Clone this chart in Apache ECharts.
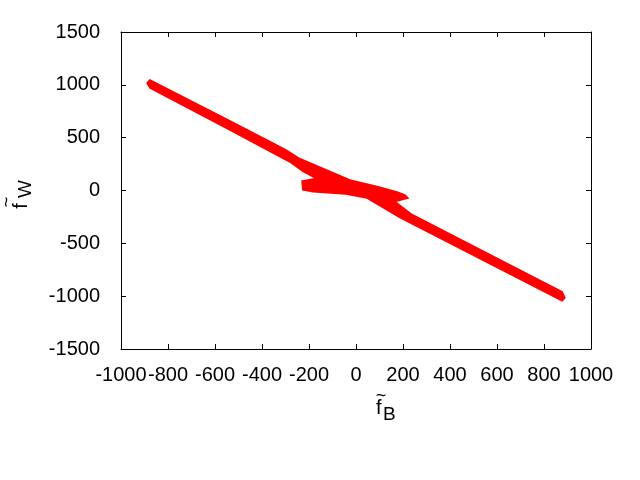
<!DOCTYPE html>
<html>
<head>
<meta charset="utf-8">
<script src="https://cdn.jsdelivr.net/npm/echarts@6/dist/echarts.min.js"></script>
<style>html,body{margin:0;padding:0;background:#fff}#c{width:640px;height:480px}</style>
</head>
<body>
<div id="c"></div>
<script>
// outline of the red point cloud (f_B, f_W)
const bandX = [-889, -877, -536, -300, -238, -26, 94, 175, 209, 221, 166, 238, 877, 889, 877, 187, 47, -43, -183, -226, -230, -170, -226, -281, -536, -877];
const bandY = [1017, 1046, 658, 387, 300, 99, 36, -14, -43, -71, -104, -227, -959, -1017, -1044, -256, -71, -33, -11, 5, 90, 114, 180, 270, 572, 970];
const xRange = [-1000, 1000, 200];
const yRange = [-1500, 1500, 500];

const FONT = 'Liberation Sans';
const chart = echarts.init(document.getElementById('c'), null, {renderer: 'canvas'});

function xAx(pos, show) {
  return {
    type: 'value', position: pos, min: xRange[0], max: xRange[1], interval: xRange[2],
    axisLine: {show: true, onZero: false, lineStyle: {color: '#000', width: 1}},
    axisTick: {show: true, inside: true, length: 5, lineStyle: {color: '#000'}},
    splitLine: {show: false},
    axisLabel: {show: show, interval: 0, hideOverlap: false, showMinLabel: true, showMaxLabel: true,
      margin: 16, color: '#000', fontFamily: FONT, fontSize: 20, formatter: v => String(v)}
  };
}
function yAx(pos, show) {
  return {
    type: 'value', position: pos, min: yRange[0], max: yRange[1], interval: yRange[2],
    axisLine: {show: true, onZero: false, lineStyle: {color: '#000', width: 1}},
    axisTick: {show: true, inside: true, length: 5, lineStyle: {color: '#000'}},
    splitLine: {show: false},
    axisLabel: {show: show, interval: 0, hideOverlap: false, showMinLabel: true, showMaxLabel: true,
      margin: 21, color: '#000', fontFamily: FONT, fontSize: 20, padding: [0, 0, 6, 0], formatter: v => String(v)}
  };
}

chart.setOption({
  animation: false,
  backgroundColor: '#fff',
  grid: {left: 121, right: 49, top: 32, bottom: 131, containLabel: false},
  xAxis: [xAx('bottom', true), xAx('top', false)],
  yAxis: [yAx('left', true), yAx('right', false)],
  series: [{
    type: 'custom',
    coordinateSystem: 'cartesian2d',
    xAxisIndex: 0, yAxisIndex: 0,
    data: [[0, 0]],
    renderItem: function (params, api) {
      const pts = bandX.map((x, i) => api.coord([x, bandY[i]]));
      return {type: 'polygon', shape: {points: pts}, style: {fill: '#ff0000', stroke: '#ff0000', lineWidth: 1.5}};
    }
  }],
  graphic: [
    {type: 'text', x: 376, y: 408, style: {text: 'f', font: '20px ' + FONT, fill: '#000', align: 'left', verticalAlign: 'middle'}},
    {type: 'text', x: 381, y: 396, style: {text: '~', font: '18px ' + FONT, fill: '#000', align: 'center', verticalAlign: 'middle'}},
    {type: 'text', x: 383, y: 415, style: {text: 'B', font: '19px ' + FONT, fill: '#000', align: 'left', verticalAlign: 'middle'}},
    {type: 'text', x: 21, y: 206, rotation: Math.PI / 2, style: {text: 'f', font: '20px ' + FONT, fill: '#000', align: 'center', verticalAlign: 'middle'}},
    {type: 'text', x: 7, y: 202, rotation: Math.PI / 2, style: {text: '~', font: '18px ' + FONT, fill: '#000', align: 'center', verticalAlign: 'middle'}},
    {type: 'text', x: 26, y: 189, rotation: Math.PI / 2, style: {text: 'W', font: '19px ' + FONT, fill: '#000', align: 'center', verticalAlign: 'middle'}}
  ]
});
</script>
</body>
</html>
